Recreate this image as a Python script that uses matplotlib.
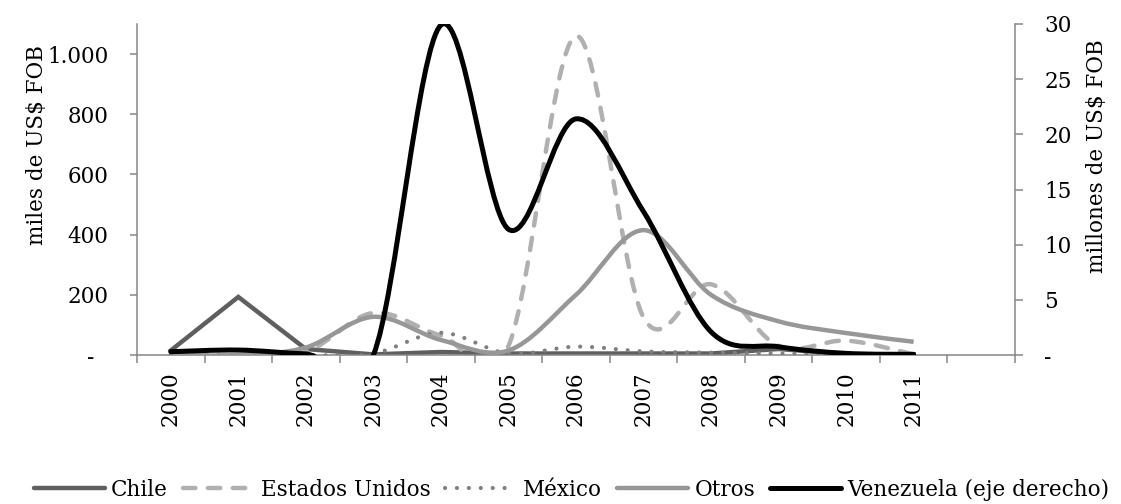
import matplotlib
matplotlib.use('Agg')
import matplotlib.pyplot as plt
from matplotlib.path import Path
from matplotlib.patches import PathPatch
from matplotlib.lines import Line2D
import numpy as np

plt.rcParams['font.family'] = ['DejaVu Serif']

# Data
years = ['2000', '2001', '2002', '2003', '2004', '2005',
         '2006', '2007', '2008', '2009', '2010', '2011']
# miles de US$ FOB (left axis)
chile = [15, 193, 20, 2, 10, 5, 5, 5, 5, 20, 3, 2]
eeuu = [0, 0, 10, 140, 65, 30, 1060, 125, 235, 30, 48, 2]
mexico = [0, 0, 0, 5, 74, 5, 28, 12, 8, 5, 2, 0]
otros = [0, 0, 25, 127, 50, 15, 200, 415, 200, 112, 73, 44]
# millones de US$ FOB (right axis)
venezuela = [0.3, 0.45, 0.1, 0.0, 29.9, 11.4, 21.4, 13.0, 2.1, 0.75, 0.15, 0.06]

left_ticks = [0, 200, 400, 600, 800, 1000]
left_labels = ['-  ', '200', '400', '600', '800', '1.000']
right_ticks = [0, 5, 10, 15, 20, 25, 30]
right_labels = ['-', '5', '10', '15', '20', '25', '30']

AXIS_GREY = '#868686'
FS = 15.5


def smooth_line(ax, xs, ys, **kw):
    # Excel style "smoothed line": cubic Bezier through every point
    n = len(xs)
    verts = [(xs[0], ys[0])]
    codes = [Path.MOVETO]
    for i in range(n - 1):
        x0, y0 = xs[max(i - 1, 0)], ys[max(i - 1, 0)]
        x1, y1 = xs[i], ys[i]
        x2, y2 = xs[i + 1], ys[i + 1]
        x3, y3 = xs[min(i + 2, n - 1)], ys[min(i + 2, n - 1)]
        verts += [(x1 + (x2 - x0) / 6, y1 + (y2 - y0) / 6),
                  (x2 - (x3 - x1) / 6, y2 - (y3 - y1) / 6),
                  (x2, y2)]
        codes += [Path.CURVE4] * 3
    patch = PathPatch(Path(verts, codes), fill=False, **kw)
    ax.add_patch(patch)
    return patch


fig = plt.figure(figsize=(11.21, 5.04), dpi=100)
ax = fig.add_axes([0.1222, 0.2956, 0.7832, 0.6568])
ax2 = ax.twinx()

x = np.arange(len(years))

styles = {
    'Chile': dict(color='#5f5f5f', lw=3.2),
    'Estados Unidos': dict(color='#b0b0b0', lw=3.2, ls=(0, (2.8, 2.8)), capstyle='round'),
    'México': dict(color='#7f7f7f', lw=3.0, ls=(0, (0.01, 2.85)), capstyle='round'),
    'Otros': dict(color='#979797', lw=3.2),
    'Venezuela (eje derecho)': dict(color='black', lw=3.6),
}

# Chile is drawn with straight segments, the rest smoothed
ax.plot(x, chile, color=styles['Chile']['color'], lw=styles['Chile']['lw'],
        solid_joinstyle='miter', zorder=2)
st = styles['Estados Unidos']
smooth_line(ax, x, eeuu, edgecolor=st['color'], linewidth=st['lw'],
            linestyle=st['ls'], capstyle=st['capstyle'], zorder=3)
st = styles['México']
smooth_line(ax, x, mexico, edgecolor=st['color'], linewidth=st['lw'],
            linestyle=st['ls'], capstyle=st['capstyle'], zorder=4)
st = styles['Otros']
smooth_line(ax, x, otros, edgecolor=st['color'], linewidth=st['lw'], zorder=5)
st = styles['Venezuela (eje derecho)']
smooth_line(ax2, x, venezuela, edgecolor=st['color'], linewidth=st['lw'],
            capstyle='round', zorder=5)

# axes limits and ticks
ax.set_xlim(-0.5, 12.5)
ax.set_ylim(0, 1100)
ax2.set_ylim(0, 30)

ax.set_xticks(np.arange(13))
ax.set_xticklabels(years + [''], rotation=90, fontsize=FS)
ax.set_xticks(np.arange(-0.5, 13, 1), minor=True)
ax.tick_params(axis='x', which='major', length=0, pad=12)
ax.tick_params(axis='x', which='minor', length=5.8, width=1.1, color=AXIS_GREY, direction='out')

ax.set_yticks(left_ticks)
ax.set_yticklabels(left_labels, fontsize=FS)
ax.tick_params(axis='y', length=5, width=1.1, color=AXIS_GREY, pad=15.5)
ax2.set_yticks(right_ticks)
ax2.set_yticklabels(right_labels, fontsize=FS)
ax2.tick_params(axis='y', length=5.5, width=1.1, color=AXIS_GREY, pad=15.5)

for a in (ax, ax2):
    a.spines['top'].set_visible(False)
    for s in a.spines.values():
        s.set_color(AXIS_GREY)
        s.set_linewidth(1.1)
ax.spines['right'].set_visible(False)
ax2.spines['left'].set_visible(False)
ax2.spines['bottom'].set_visible(False)

ax.set_ylabel('miles de US$ FOB', fontsize=FS, va='center', ha='center')
ax.yaxis.set_label_coords(-0.114, 0.634)
ax2.set_ylabel('millones de US$ FOB', fontsize=FS, rotation=90, va='center', ha='center')
ax2.yaxis.set_label_coords(1.093, 0.6)

# legend
handles = []
for name, st in styles.items():
    handles.append(Line2D([0], [0], color=st['color'], lw=st['lw'],
                          ls=st.get('ls', '-'),
                          dash_capstyle=st.get('capstyle', 'butt'),
                          solid_capstyle='round'))
fig.legend(handles, list(styles.keys()), loc='center', bbox_to_anchor=(0.51, 0.028),
           ncol=5, frameon=False, fontsize=FS, handlelength=3.3,
           handletextpad=0.3, columnspacing=0.7, borderaxespad=0)

fig.savefig('out.png', dpi=100)
